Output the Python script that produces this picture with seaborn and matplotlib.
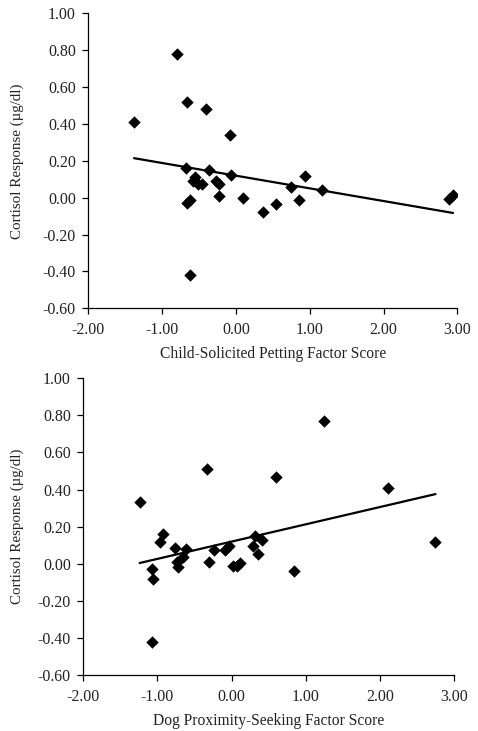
import numpy as np
import pandas as pd
import matplotlib
matplotlib.use("Agg")
import matplotlib.pyplot as plt
import seaborn as sns

# Panel A: child-solicited petting factor score vs cortisol response
petting_score = [-1.38, -0.80, -0.66, -0.41, -0.085, -0.67, -0.37, -0.07, -0.55,
                 -0.58, -0.52, -0.46, -0.27, -0.23, -0.235, -0.66, -0.62, -0.62,
                 0.09, 0.36, 0.54, 0.75, 0.86, 0.94, 1.17, 2.89, 2.94]
petting_cortisol = [0.41, 0.78, 0.52, 0.48, 0.34, 0.16, 0.15, 0.125, 0.113,
                    0.09, 0.077, 0.077, 0.09, 0.075, 0.01, -0.03, -0.015, -0.42,
                    0.00, -0.075, -0.034, 0.057, -0.014, 0.118, 0.041, -0.006, 0.012]

# Panel B: dog proximity-seeking factor score vs cortisol response
proximity_score = [-1.24, -0.33, 0.60, 1.24, 2.11, 2.75, -1.08, -1.06, -1.08,
                   -0.965, -0.925, -0.76, -0.74, -0.72, -0.655, -0.62, -0.31,
                   -0.24, -0.085, -0.03, 0.015, 0.07, 0.12, 0.29, 0.31, 0.415,
                   0.36, 0.84]
proximity_cortisol = [0.335, 0.51, 0.47, 0.77, 0.41, 0.115, -0.03, -0.08, -0.42,
                      0.115, 0.163, 0.087, 0.012, -0.017, 0.038, 0.08, 0.012,
                      0.074, 0.074, 0.094, -0.01, -0.01, 0.005, 0.094, 0.149,
                      0.128, 0.052, -0.038]

x_ticks = [-2.0, -1.0, 0.0, 1.0, 2.0, 3.0]
y_ticks = [-0.6, -0.4, -0.2, 0.0, 0.2, 0.4, 0.6, 0.8, 1.0]
y_label = "Cortisol Response (µg/dl)"

sns.set_style("ticks")
plt.rcParams["font.family"] = ["Liberation Serif", "DejaVu Serif"]

fig = plt.figure(figsize=(4.78, 7.31), dpi=100)
ax1 = fig.add_axes([0.1847, 0.5782, 0.7724, 0.4036])
ax2 = fig.add_axes([0.1743, 0.0766, 0.7755, 0.4059])

# (axes, x, y, x label, x label pad, y label pad)
panels = [
    (ax1, petting_score, petting_cortisol, "Child-Solicited Petting Factor Score", 5.5, 13.5),
    (ax2, proximity_score, proximity_cortisol, "Dog Proximity-Seeking Factor Score", 6, 10),
]

for ax, xs, ys, xlabel, xpad, ypad in panels:
    df = pd.DataFrame({"x": xs, "y": ys})
    sns.regplot(data=df, x="x", y="y", ax=ax, ci=None, truncate=True,
                marker="D", color="black",
                scatter_kws={"s": 40, "linewidths": 0, "alpha": 1},
                line_kws={"linewidth": 1.6, "color": "black"})
    ax.set_xlim(-2, 3)
    ax.set_ylim(-0.6, 1.0)
    ax.set_xticks(x_ticks)
    ax.set_yticks(y_ticks)
    ax.set_xticklabels([f"{t:.2f}" for t in x_ticks])
    ax.set_yticklabels([f"{t:.2f}" for t in y_ticks])
    ax.tick_params(labelsize=11.5, length=4, width=0.9, color="black",
                   labelcolor="#222222")
    ax.tick_params(axis="y", pad=5)
    ax.tick_params(axis="x", pad=6)
    ax.set_xlabel(xlabel, fontsize=11.2, color="#222222", labelpad=xpad)
    ax.set_ylabel(y_label, fontsize=10.8, color="#222222", labelpad=ypad)
    for s in ["top", "right"]:
        ax.spines[s].set_visible(False)
    for s in ["left", "bottom"]:
        ax.spines[s].set_linewidth(0.9)
        ax.spines[s].set_color("black")

fig.savefig("out.png", dpi=100)
